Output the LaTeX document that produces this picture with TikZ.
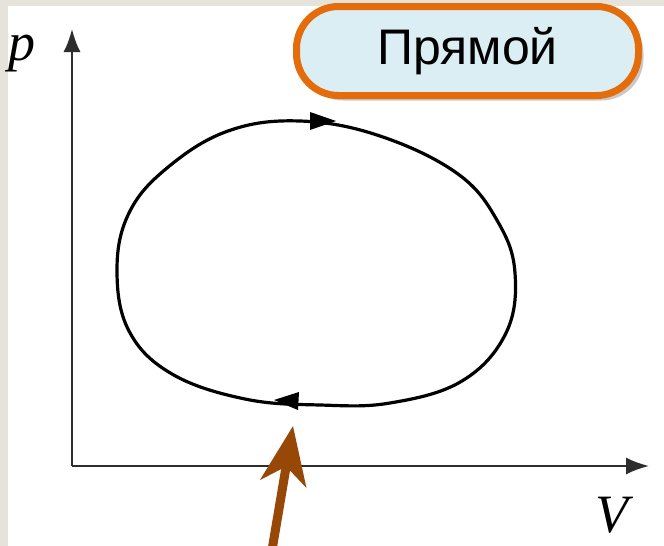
\documentclass[tikz,border=0pt]{standalone}
\usepackage{fontspec}
\setmainfont{Liberation Serif}
\newfontfamily\boxfont{Liberation Sans}
\usetikzlibrary{arrows.meta,shadows}
\definecolor{beigebg}{RGB}{230,227,218}
\definecolor{boxorange}{RGB}{228,108,10}
\definecolor{boxfill}{RGB}{218,238,243}
\definecolor{pointerbrown}{RGB}{152,72,6}
\definecolor{axisgray}{RGB}{45,45,45}
\tikzset{
  axisline/.style={draw=axisgray, line width=2pt, -{Latex[length=23pt,width=17pt]}},
  loopline/.style={draw=black, line width=3.2pt},
  looptip/.style={fill=black, draw=none},
  axislabel/.style={font=\fontsize{54}{60}\selectfont\itshape, inner sep=0pt, anchor=base},
  pillbox/.style={draw=boxorange, line width=7pt, fill=boxfill, rounded corners=42pt,
    drop shadow={shadow xshift=5pt, shadow yshift=-5pt, opacity=0.35, fill=black!60}},
  pointer/.style={draw=pointerbrown, line width=9pt,
    -{Stealth[length=58pt,width=46pt,inset=17pt,fill=pointerbrown]}}
}
\begin{document}
\begin{tikzpicture}[x=1pt,y=-1pt]
\useasboundingbox (0,0) rectangle (664,546);
\fill[beigebg] (0,0) rectangle (664,546);
\fill[white] (8,6) rectangle (664,546);
% axes
\coordinate (O) at (72,466);
\coordinate (ytip) at (72,29);
\coordinate (xtip) at (649,466);
\draw[axisline] (O) -- (ytip);
\draw[axisline] (O) -- (xtip);
\node[axislabel] (plabel) at (22,60) {p};
\node[axislabel] (Vlabel) at (612,532) {V};
% loop
\draw[loopline] plot[smooth cycle, tension=0.65] coordinates {
 (300,121) (380,136) (458,174) (498,222) (515,273) (506,333) (462,381)
 (390,403) (320,405) (245,399) (172,374) (129,331) (117,270) (129,213)
 (167,168) (228,131)};
\fill[looptip] (336,121) -- (310,112) -- (310,130) -- cycle;
\fill[looptip] (274,400) -- (299,392) -- (298,410) -- cycle;
% box
\node[pillbox, minimum width=342pt, minimum height=89pt, inner sep=0pt] (box) at (467.5,51) {};
\node[font=\boxfont\fontsize{50}{56}\selectfont, inner sep=0pt] (boxtext) at (box.center) {Прямой};
% pointer
\coordinate (pstart) at (271,556);
\coordinate (ptip) at (293,426);
\draw[pointer] (pstart) -- (ptip);
\end{tikzpicture}
\end{document}
